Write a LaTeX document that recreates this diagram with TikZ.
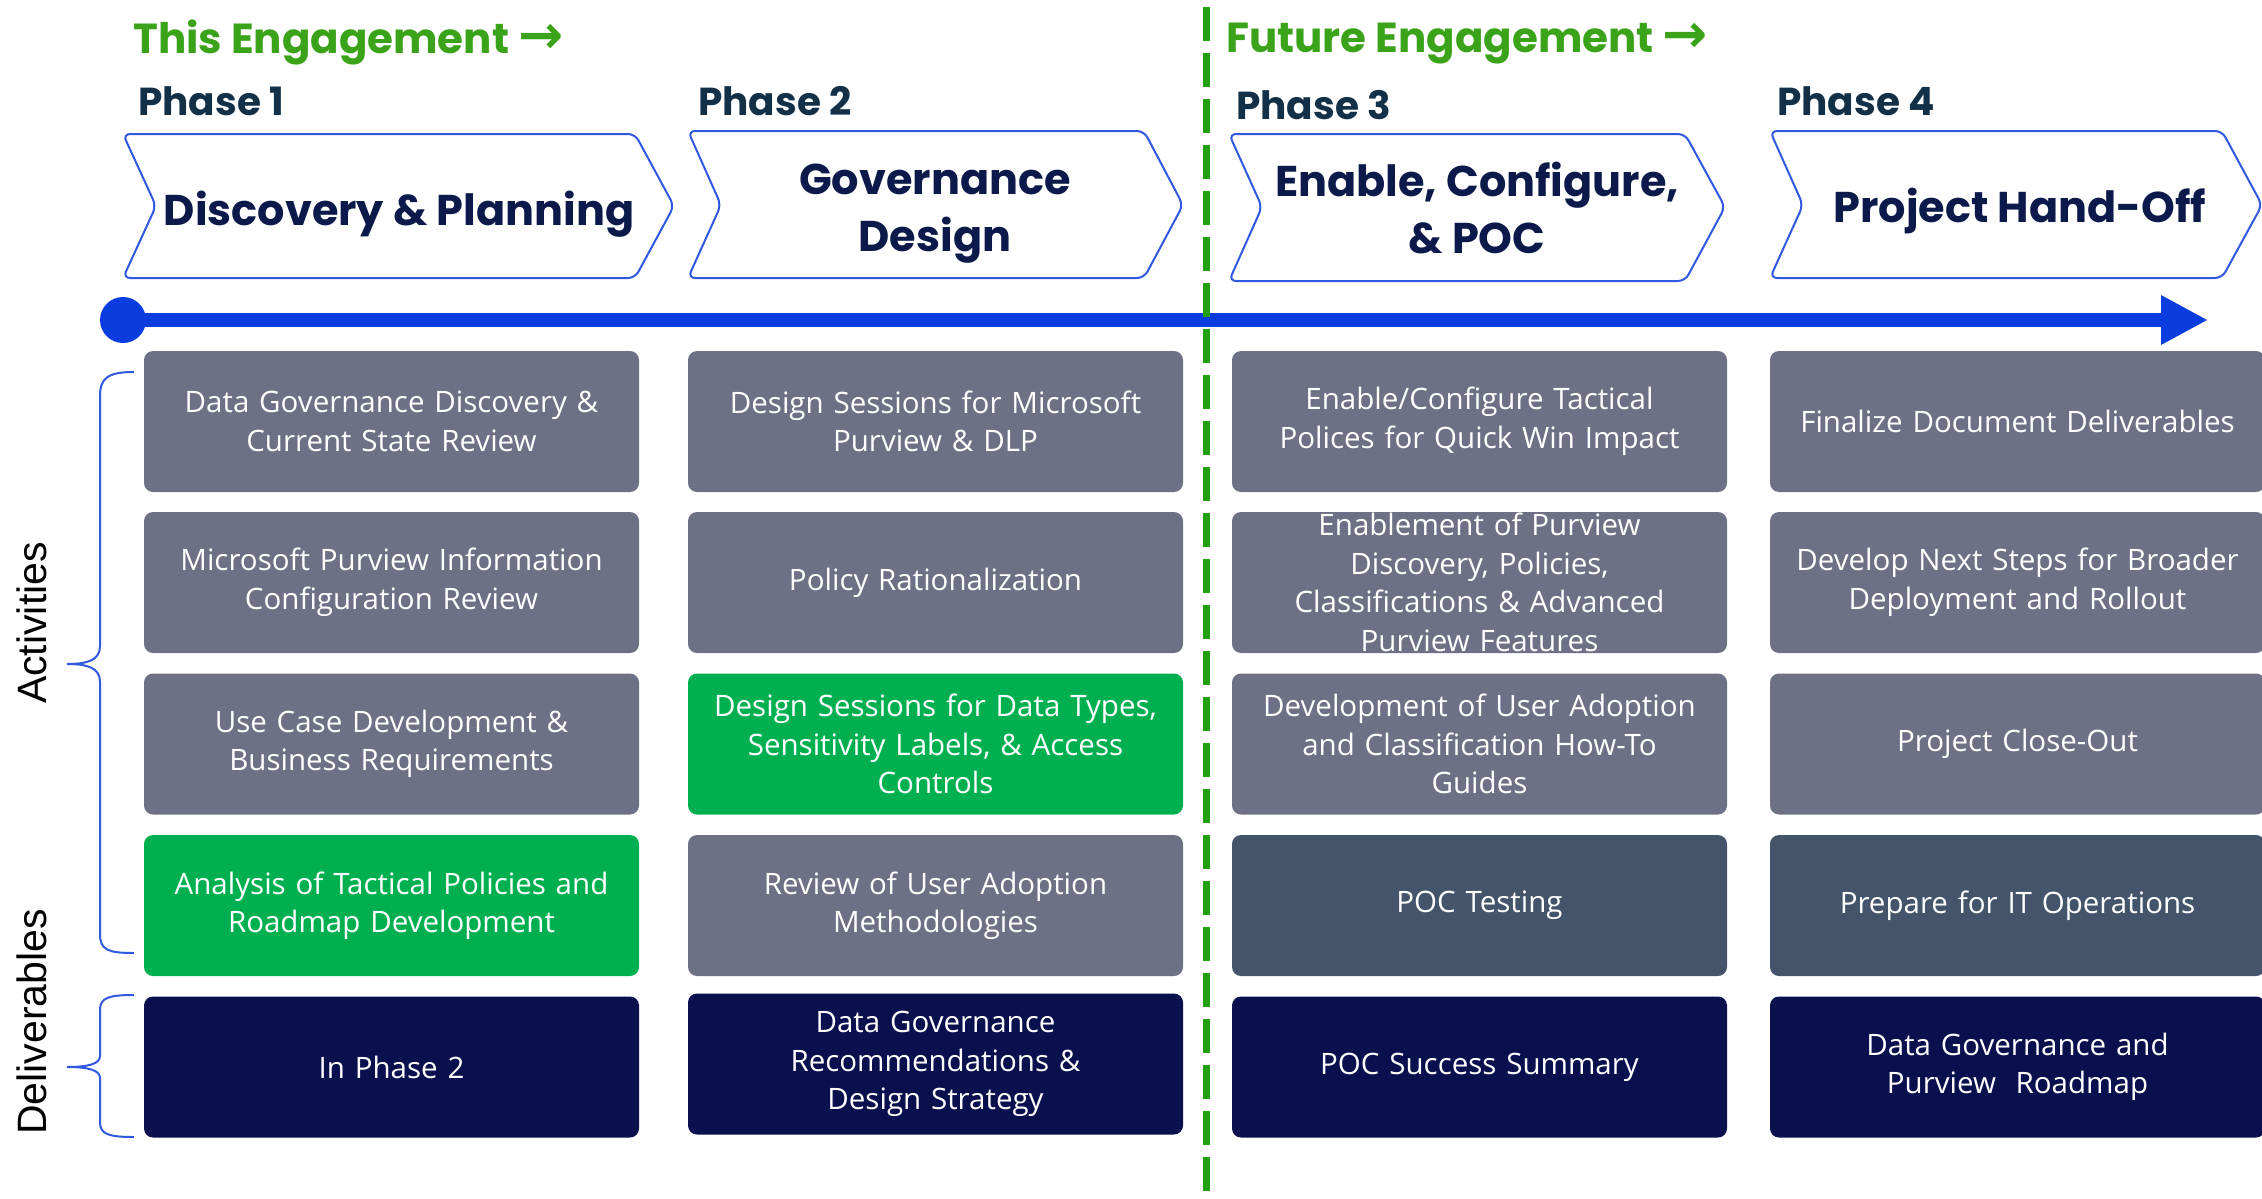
\documentclass[tikz,border=0pt]{standalone}
\usepackage{fontspec}
\setmainfont{Open Sans}
\newfontfamily\headfont{Poppins}
\newfontfamily\labfont{Liberation Sans}
\newfontfamily\symfont{DejaVu Sans}
\usetikzlibrary{arrows.meta}
\definecolor{boxgray}{HTML}{6E7085}
\definecolor{boxgreen}{HTML}{00B050}
\definecolor{boxslate}{HTML}{44546A}
\definecolor{boxnavy}{HTML}{0A104E}
\definecolor{titlegreen}{HTML}{3AA31A}
\definecolor{dashgreen}{HTML}{22A012}
\definecolor{phasecol}{HTML}{123047}
\definecolor{headnavy}{HTML}{0B1A4A}
\definecolor{lineblue}{HTML}{0A3DE0}
\definecolor{chevblue}{HTML}{3158E0}
\newcommand{\bigarrow}{{\symfont\bfseries\fontsize{54}{54}\selectfont →}}
\tikzset{
  cell/.style={rounded corners=9pt, minimum width=495pt, minimum height=141pt,
    text width=485pt, align=center, text=white, inner sep=0pt,
    font=\fontsize{29.5}{38.5}\selectfont},
  gray/.style={cell, fill=boxgray},
  grn/.style={cell, fill=boxgreen},
  slate/.style={cell, fill=boxslate},
  navy/.style={cell, fill=boxnavy},
  chev/.style={draw=chevblue, line width=2pt, fill=white, rounded corners=7pt},
  headtxt/.style={align=center, text=headnavy, inner sep=0pt,
    font=\headfont\bfseries\fontsize{43}{57}\selectfont},
  phasetxt/.style={anchor=west, text=phasecol, inner sep=0pt,
    font=\headfont\bfseries\fontsize{39}{44}\selectfont},
  titletxt/.style={anchor=west, text=titlegreen, inner sep=0pt,
    font=\headfont\bfseries\fontsize{42}{48}\selectfont},
  sidetxt/.style={rotate=90, inner sep=0pt, font=\labfont\fontsize{41}{46}\selectfont},
  brace/.style={draw=chevblue, line width=2pt}
}
\begin{document}
\begin{tikzpicture}[x=1pt,y=-1pt]
\useasboundingbox (0,0) rectangle (2262,1199);
\fill[white] (0,0) rectangle (2262,1199);

% titles
\node[titletxt] (t1) at (133,42) {This Engagement \bigarrow};
\node[titletxt] (t2) at (1226,44) {Future Engagement \bigarrow};

% phase labels
\node[phasetxt] (p1) at (138,101) {Phase 1};
\node[phasetxt] (p2) at (698,101) {Phase 2};
\node[phasetxt] (p3) at (1236,105) {Phase 3};
\node[phasetxt] (p4) at (1777,101) {Phase 4};

% chevrons
\draw[chev] (123,134) -- (635,134) -- (674,206) -- (635,278) -- (123,278) -- (156,206) -- cycle;
\draw[chev] (688,131) -- (1144,131) -- (1183,205) -- (1144,278) -- (688,278) -- (721,205) -- cycle;
\draw[chev] (1229,134) -- (1685,134) -- (1725,207) -- (1685,281) -- (1229,281) -- (1262,207) -- cycle;
\draw[chev] (1770,131) -- (2222,131) -- (2262,205) -- (2222,278) -- (1770,278) -- (1803,205) -- cycle;
\node[headtxt] (h1) at (399,214) {Discovery \& Planning};
\node[headtxt] (h2) at (935,214) {Governance\\Design};
\node[headtxt] (h3) at (1477,208) {Enable, Configure,\\\& POC};
\node[headtxt] (h4) at (2020,211) {Project Hand-Off};

% timeline
\node[circle, fill=lineblue, minimum size=46pt, inner sep=0pt] (start) at (123,320) {};
\coordinate (tend) at (2166,320);
\draw[lineblue, line width=14pt] (start.center) -- (tend);
\fill[lineblue] (2161,295) -- (2207,320) -- (2161,345) -- cycle;

% divider
\coordinate (dtop) at (1206,7);
\coordinate (dbot) at (1206,1199);
\draw[dashgreen, line width=7pt, dash pattern=on 34pt off 12pt] (dtop) -- (dbot);

% column 1
\node[gray] (a1) at (391.5,421.5) {Data Governance Discovery \&\\Current State Review};
\node[gray] (a2) at (391.5,582.5) {Microsoft Purview Information\\Configuration Review};
\node[gray] (a3) at (391.5,744) {Use Case Development \&\\Business Requirements};
\node[grn]  (a4) at (391.5,905.5) {Analysis of Tactical Policies and\\Roadmap Development};
\node[navy] (a5) at (391.5,1067) {In Phase 2};
% column 2
\node[gray] (b1) at (935.5,421.5) {Design Sessions for Microsoft\\Purview \& DLP};
\node[gray] (b2) at (935.5,582.5) {Policy Rationalization};
\node[grn]  (b3) at (935.5,744) {Design Sessions for Data Types,\\Sensitivity Labels, \& Access\\Controls};
\node[gray] (b4) at (935.5,905.5) {Review of User Adoption\\Methodologies};
\node[navy] (b5) at (935.5,1064) {Data Governance\\Recommendations \&\\Design Strategy};
% column 3
\node[gray] (c1) at (1479.5,421.5) {Enable/Configure Tactical\\Polices for Quick Win Impact};
\node[gray] (c2) at (1479.5,582.5) {Enablement of Purview\\Discovery, Policies,\\Classifications \& Advanced\\Purview Features};
\node[gray] (c3) at (1479.5,744) {Development of User Adoption\\and Classification How-To\\Guides};
\node[slate] (c4) at (1479.5,905.5) {POC Testing};
\node[navy] (c5) at (1479.5,1067) {POC Success Summary};
% column 4
\node[gray] (d1) at (2017.5,421.5) {Finalize Document Deliverables};
\node[gray] (d2) at (2017.5,582.5) {Develop Next Steps for Broader\\Deployment and Rollout};
\node[gray] (d3) at (2017.5,744) {Project Close-Out};
\node[slate] (d4) at (2017.5,905.5) {Prepare for IT Operations};
\node[navy] (d5) at (2017.5,1067) {Data Governance and\\Purview\ \ Roadmap};

% braces
\draw[brace] (134,372) .. controls (108,372) and (100,378) .. (100,396) -- (100,646)
  .. controls (100,660) and (88,664) .. (67,664)
  .. controls (88,664) and (100,668) .. (100,682) -- (100,934)
  .. controls (100,950) and (108,953) .. (134,953);
\draw[brace] (134,995) .. controls (108,995) and (100,998) .. (100,1010) -- (100,1056)
  .. controls (100,1064) and (88,1067) .. (67,1067)
  .. controls (88,1067) and (100,1070) .. (100,1078) -- (100,1122)
  .. controls (100,1134) and (108,1137) .. (134,1137);
\node[sidetxt] (act) at (32,623) {Activities};
\node[sidetxt] (del) at (32,1022) {Deliverables};
\end{tikzpicture}
\end{document}
